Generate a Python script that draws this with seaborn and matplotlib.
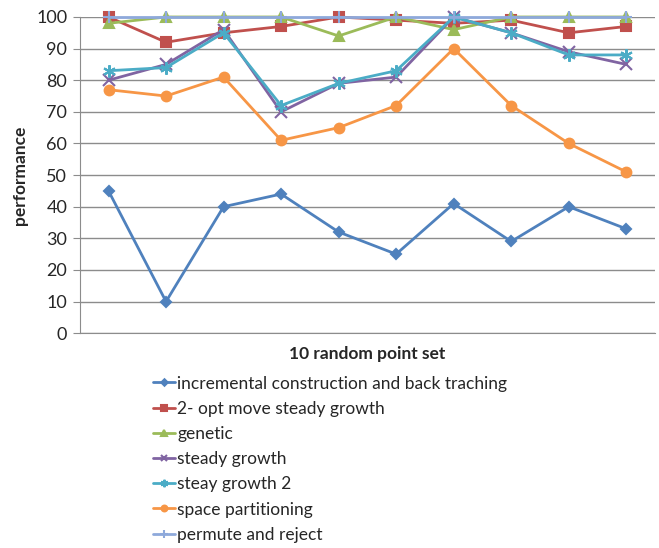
import pandas as pd
import matplotlib.pyplot as plt
import seaborn as sns

# values
point_sets = [1, 2, 3, 4, 5, 6, 7, 8, 9, 10]
incremental = [45, 10, 40, 44, 32, 25, 41, 29, 40, 33]
two_opt = [100, 92, 95, 97, 100, 99, 98, 99, 95, 97]
genetic = [98, 100, 100, 100, 94, 100, 96, 100, 100, 100]
steady = [80, 85, 96, 70, 79, 81, 100, 95, 89, 85]
steady2 = [83, 84, 95, 72, 79, 83, 100, 95, 88, 88]
space_part = [77, 75, 81, 61, 65, 72, 90, 72, 60, 51]
permute = [100, 100, 100, 100, 100, 100, 100, 100, 100, 100]

names = ["incremental construction and back traching",
         "2- opt move steady growth",
         "genetic",
         "steady growth",
         "steay growth 2",
         "space partitioning",
         "permute and reject"]
series = [incremental, two_opt, genetic, steady, steady2, space_part, permute]
colors = ["#4F81BD", "#C0504D", "#9BBB59", "#8064A2", "#4BACC6", "#F79646", "#8EA9DB"]
markers = ["D", "s", "^", "x", (6, 2, 0), "o", "+"]
sizes = [5.5, 7, 7, 8, 9, 7, 9]

rows = []
for name, vals in zip(names, series):
    for x, v in zip(point_sets, vals):
        rows.append({"set": x, "performance": v, "algorithm": name})
df = pd.DataFrame(rows)

sns.set_style("white")
plt.rcParams['font.family'] = ['Lato', 'DejaVu Sans']

fig = plt.figure(figsize=(6.59, 5.48), dpi=100)
ax = fig.add_axes([0.121, 0.392, 0.873, 0.577])

for i, (name, col, mk, ms) in enumerate(zip(names, colors, markers, sizes)):
    sub = df[df["algorithm"] == name]
    sns.lineplot(data=sub, x="set", y="performance", ax=ax, color=col,
                 marker=mk, markersize=ms, markeredgecolor=col,
                 markeredgewidth=1.5, linewidth=2, label=name,
                 clip_on=False, zorder=3 + i)

ax.set_xlim(0.5, 10.5)
ax.set_ylim(0, 100)
ax.set_yticks(range(0, 101, 10))
ax.set_xticks([])
ax.yaxis.grid(True, color="#8C8C8C", linewidth=1)
ax.set_axisbelow(True)
for s in ["top", "right"]:
    ax.spines[s].set_visible(False)
ax.spines["left"].set_color("#8C8C8C")
ax.spines["bottom"].set_color("#8C8C8C")
ax.tick_params(axis="y", length=5, color="#8C8C8C", labelsize=13, pad=4, left=True)

ax.set_xlabel("10 random point set", fontsize=12.5, fontweight="bold", labelpad=9)
ax.set_ylabel("performance", fontsize=12.5, fontweight="bold", labelpad=6)

ax.legend(loc="upper left", bbox_to_anchor=(0.127, -0.134), frameon=False,
          fontsize=12.5, handlelength=1.3, handletextpad=0.1, markerscale=0.6,
          labelspacing=0.53, borderaxespad=0, borderpad=0)

plt.savefig("out.png", dpi=100)
